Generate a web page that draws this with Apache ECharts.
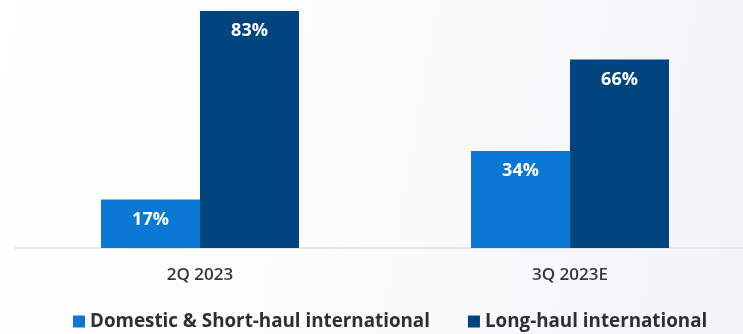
<!DOCTYPE html>
<html>
<head>
<meta charset="utf-8">
<script src="https://cdn.jsdelivr.net/npm/echarts@6/dist/echarts.min.js"></script>
<style>
html,body{margin:0;padding:0;}
#c{width:743px;height:334px;background:linear-gradient(100deg,#ffffff 0%,#fbfbfc 50%,#f3f4f6 100%);}
</style>
</head>
<body>
<div id="c"></div>
<script>
var categories = ['2Q 2023', '3Q 2023E'];
var seriesNames = ['Domestic & Short-haul international', 'Long-haul international'];
var domesticShort = [17, 34];
var longHaul = [83, 66];

var chart = echarts.init(document.getElementById('c'), null, {renderer: 'canvas'});
var font = '"Open Sans", "Noto Sans", sans-serif';
var lbl = {
  show: true, position: 'insideTop', distance: 11,
  color: '#ffffff', fontSize: 18, fontWeight: 'bold', fontFamily: font,
  formatter: '{c}%'
};
chart.setOption({
  backgroundColor: 'transparent',
  animation: false,
  grid: {left: 15, width: 740, top: 11, bottom: 86, outerBoundsMode: 'none', containLabel: false},
  legend: {
    data: seriesNames,
    top: 312, left: 73,
    padding: 0,
    itemWidth: 12, itemHeight: 12, itemGap: 38,
    icon: 'rect',
    textStyle: {fontSize: 18.8, fontWeight: 'bold', color: '#2b2f36', fontFamily: font}
  },
  xAxis: {
    type: 'category', data: categories,
    axisLine: {lineStyle: {color: '#e4e6e9', width: 2}},
    axisTick: {show: false},
    axisLabel: {fontSize: 17, fontWeight: 600, color: '#333840', fontFamily: font, margin: 19}
  },
  yAxis: {type: 'value', min: 0, max: 83, show: false, splitLine: {show: false}},
  series: [
    {name: seriesNames[0], type: 'bar', data: domesticShort, barWidth: 99, barGap: '0%',
     itemStyle: {color: '#0a78d4'}, label: lbl},
    {name: seriesNames[1], type: 'bar', data: longHaul, barWidth: 99, barGap: '0%',
     itemStyle: {color: '#00457f'}, label: lbl}
  ]
});
</script>
</body>
</html>
